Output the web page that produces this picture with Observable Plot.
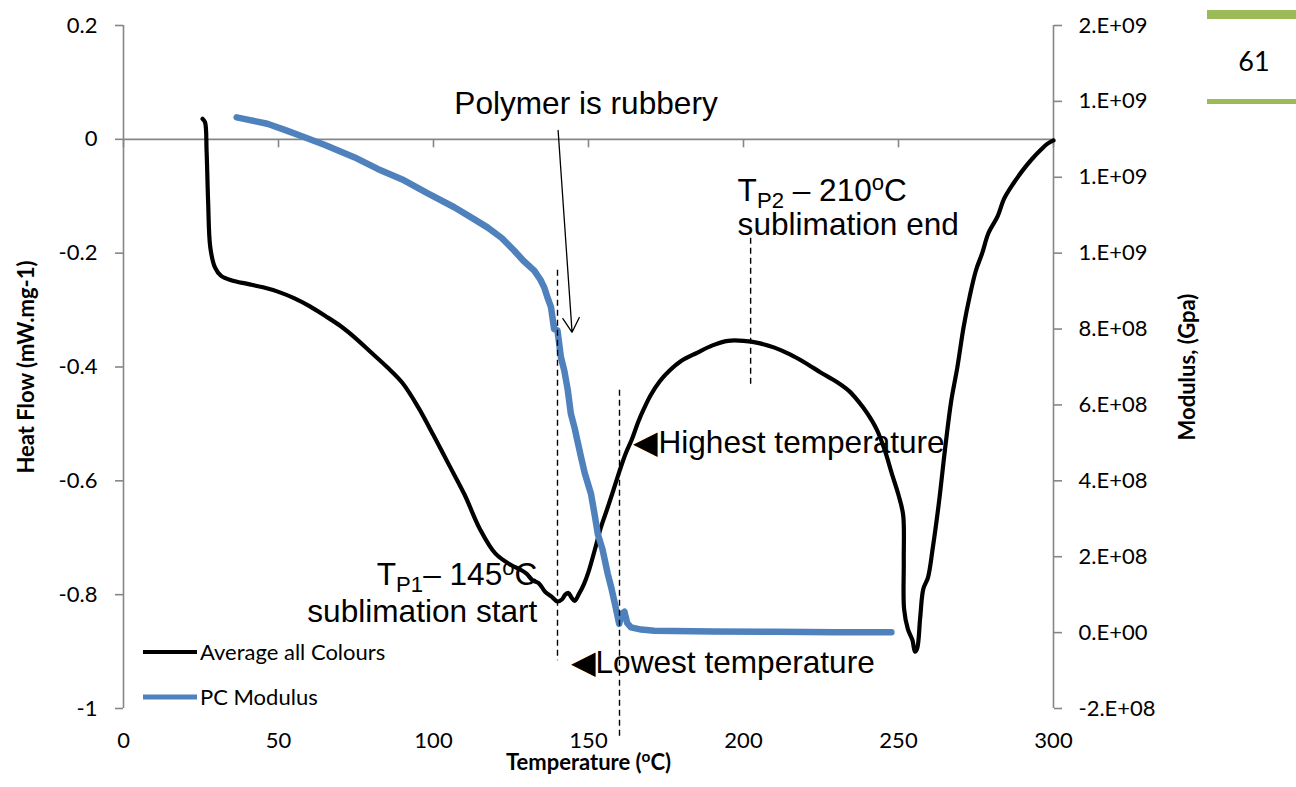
<!DOCTYPE html>
<html>
<head>
<meta charset="utf-8">
<script src="https://cdn.jsdelivr.net/npm/d3@7"></script>
<script src="https://cdn.jsdelivr.net/npm/@observablehq/plot@0.6"></script>
<style>
  body { margin: 0; background: #fff; }
  #wrap { position: relative; width: 1296px; height: 787px; overflow: hidden; }
  #wrap > svg { position: absolute; left: 0; top: 0; }
</style>
</head>
<body>
<div id="wrap"></div>
<script>
// DSC heat flow, averaged over all colours: [temperature °C, heat flow mW/mg]
const heatFlowCurve = [
  [25.5, 0.036], [26.3, 0.03], [26.8, -0.02], [27.3, -0.11], [28.0, -0.19], [29.5, -0.225],
  [31.5, -0.24], [35, -0.248], [40, -0.254], [45, -0.26], [50, -0.268], [55, -0.279],
  [60, -0.293], [65, -0.31], [70, -0.328], [75, -0.35], [80, -0.375], [85, -0.4],
  [90, -0.428], [95, -0.47], [100, -0.52], [105, -0.572], [110, -0.624], [115, -0.685],
  [120, -0.728], [125, -0.748], [128, -0.756], [130, -0.763], [132, -0.775], [134, -0.78],
  [136, -0.795], [138, -0.803], [140, -0.812], [141.5, -0.808], [142.5, -0.8], [143.5, -0.797],
  [144.5, -0.805], [145.5, -0.811], [147, -0.798], [148.5, -0.782], [150, -0.76], [152, -0.722],
  [154, -0.682], [156, -0.65], [158, -0.617], [160, -0.583], [162, -0.552], [164, -0.527],
  [166, -0.497], [168, -0.472], [170, -0.45], [173, -0.425], [176, -0.407], [180, -0.389],
  [185, -0.375], [190, -0.362], [195, -0.354], [200, -0.354], [205, -0.358], [210, -0.366],
  [215, -0.378], [220, -0.393], [225, -0.41], [230, -0.426], [234, -0.442], [237, -0.46],
  [240, -0.482], [243, -0.51], [245.5, -0.545], [248, -0.59], [250, -0.625], [251.5, -0.66],
  [251.7, -0.74], [251.8, -0.825], [253, -0.86], [254.5, -0.88], [255.3, -0.9], [256, -0.895],
  [257, -0.84], [258, -0.79], [259.5, -0.77], [261, -0.72], [263, -0.64], [265, -0.545],
  [267, -0.46], [269, -0.4], [271, -0.33], [273, -0.275], [275, -0.23], [277, -0.2],
  [279, -0.165], [282, -0.135], [284, -0.105], [287, -0.078], [290, -0.055], [293, -0.035],
  [296, -0.018], [298, -0.008], [300, -0.002]
];

// PC storage modulus: [temperature °C, modulus]
const modulusCurve = [
  [36.5, 1.358e9], [40, 1.352e9], [46.4, 1.341e9], [52, 1.325e9], [58.2, 1.306e9], [65, 1.285e9],
  [74.4, 1.253e9], [82, 1.222e9], [90.5, 1.192e9], [98, 1.158e9], [106.7, 1.121e9], [112, 1.095e9],
  [117.4, 1.068e9], [122, 1.04e9], [126, 1.007e9], [129, 0.98e9], [132.5, 0.954e9], [134.5, 0.93e9],
  [135.7, 0.91e9], [136.7, 0.885e9], [137.9, 0.858e9], [138.9, 0.80e9], [140, 0.796e9], [141.1, 0.726e9],
  [142.2, 0.69e9], [143.3, 0.64e9], [144.3, 0.577e9], [145.5, 0.54e9], [147.6, 0.462e9], [148.8, 0.42e9],
  [150.8, 0.366e9], [152, 0.31e9], [153, 0.26e9], [154.5, 0.22e9], [156.2, 0.155e9], [157.3, 0.12e9],
  [158.3, 0.084e9], [159.9, 0.023e9], [160.8, 0.05e9], [161.6, 0.055e9], [162.5, 0.025e9], [163.7, 0.014e9],
  [167, 0.008e9], [171.2, 0.005e9], [190, 0.003e9], [210, 0.002e9], [230, 0.001e9], [247.7, 0.001e9]
];

const seriesNames = ["Average all Colours", "PC Modulus"];
const seriesColors = ["#000000", "#4F81BD"];

const xTicks = [0, 50, 100, 150, 200, 250, 300];
const yTicks = [-1, -0.8, -0.6, -0.4, -0.2, 0, 0.2];
const modTicks = [-2e8, 0, 2e8, 4e8, 6e8, 8e8, 1e9, 1.2e9, 1.4e9, 1.6e9];
const modTickLabels = ["-2.E+08", "0.E+00", "2.E+08", "4.E+08", "6.E+08", "8.E+08", "1.E+09", "1.E+09", "1.E+09", "2.E+09"];

// Secondary (modulus) axis expressed on the heat-flow scale
const modDomain = [-2e8, 1.6e9];
const yDomain = [-1, 0.2];
const toLeft = m => yDomain[0] + (m - modDomain[0]) / (modDomain[1] - modDomain[0]) * (yDomain[1] - yDomain[0]);

// Annotation guides and labels (temperature, heat flow)
const guideLines = [
  {x: 140, y1: -0.23, y2: -0.916},
  {x: 160, y1: -0.441, y2: -1.05},
  {x: 202.3, y1: -0.174, y2: -0.432}
];
const pointer = [{x1: 140.2, y1: 0.0155, x2: 144.7, y2: -0.339}];
const notesMiddle = [
  {x: 149.2, y: 0.063, text: "Polymer is rubbery"}
];
const notesEnd = [
  {x: 133.5, y: -0.766, text: "T_{P1}– 145^{o}C"},
  {x: 133.5, y: -0.831, text: "sublimation start"}
];
const notesStart = [
  {x: 198.1, y: -0.090, text: "T_{P2} – 210^{o}C"},
  {x: 198.1, y: -0.151, text: "sublimation end"},
  {x: 164.5, y: -0.533, text: "◀Highest temperature"},
  {x: 144.2, y: -0.919, text: "◀Lowest temperature"}
];

const axisGrey = "#868686";
const tickFont = "Lato";
const noteFont = "Liberation Sans, Arial, sans-serif";

const tickDown = {draw(context) { context.moveTo(0, 0); context.lineTo(0, 8); }};

const noteStyle = anchor => ({x: "x", y: "y", text: "text", textAnchor: anchor, lineAnchor: "middle",
  fontSize: 31.6, fontFamily: noteFont, fill: "black"});

const chart = Plot.plot({
  width: 1296,
  height: 787,
  marginLeft: 123,
  marginRight: 243,
  marginTop: 25,
  marginBottom: 79,
  style: {fontFamily: tickFont, fontSize: "22px", color: "black", background: "transparent", overflow: "visible"},
  x: {domain: [0, 300]},
  y: {domain: yDomain},
  marks: [
    // axis lines
    Plot.ruleX([0], {stroke: axisGrey, strokeWidth: 1.6}),
    Plot.ruleX([300], {stroke: axisGrey, strokeWidth: 1.6}),
    Plot.ruleY([0], {stroke: axisGrey, strokeWidth: 1.6}),
    Plot.dot(xTicks, {x: d => d, y: () => 0, symbol: tickDown, stroke: axisGrey, strokeWidth: 1.6, fill: "none"}),
    Plot.axisX(xTicks, {anchor: "bottom", tickSize: 0, tickPadding: 24, tickFormat: d => String(d), fontSize: 22, fontFamily: tickFont, label: null}),
    Plot.axisY(yTicks, {anchor: "left", tickSize: 8, tickPadding: 18, stroke: axisGrey, strokeWidth: 1.6, fill: "black",
      tickFormat: d => String(+d.toFixed(1)), fontSize: 22, fontFamily: tickFont, label: null}),
    Plot.axisY(modTicks.map(toLeft), {anchor: "right", tickSize: 8, tickPadding: 17, stroke: axisGrey, strokeWidth: 1.6, fill: "black",
      tickFormat: d => modTickLabels[modTicks.findIndex(m => Math.abs(toLeft(m) - d) < 1e-9)], fontSize: 22, fontFamily: tickFont, label: null}),

    // axis titles
    Plot.text(["Heat Flow (mW.mg-1)"], {frameAnchor: "left", dx: -97, rotate: -90, text: d => d, textAnchor: "middle", lineAnchor: "middle",
      fontWeight: "bold", fontSize: 22, fontFamily: tickFont}),
    Plot.text(["Modulus, (Gpa)"], {frameAnchor: "right", dx: 134, rotate: -90, text: d => d, textAnchor: "middle", lineAnchor: "middle",
      fontWeight: "bold", fontSize: 22, fontFamily: tickFont}),
    Plot.text(["Temperature (^{o}C)"], {frameAnchor: "bottom", dy: 54, text: d => d, textAnchor: "middle", lineAnchor: "middle",
      fontWeight: "bold", fontSize: 22, fontFamily: tickFont}),

    // series
    Plot.line(heatFlowCurve, {x: d => d[0], y: d => d[1], stroke: seriesColors[0], strokeWidth: 4.2, curve: "catmull-rom"}),
    Plot.line(modulusCurve, {x: d => d[0], y: d => toLeft(d[1]), stroke: seriesColors[1], strokeWidth: 6.5, strokeLinecap: "round", strokeLinejoin: "round"}),

    // annotations
    Plot.ruleX(guideLines, {x: "x", y1: "y1", y2: "y2", stroke: "black", strokeWidth: 1.4, strokeDasharray: "6,4"}),
    Plot.arrow(pointer, {x1: "x1", y1: "y1", x2: "x2", y2: "y2", stroke: "black", strokeWidth: 1.3, headLength: 19, headAngle: 60}),
    Plot.text(notesMiddle, noteStyle("middle")),
    Plot.text(notesEnd, noteStyle("end")),
    Plot.text(notesStart, noteStyle("start"))
  ]
});

const wrap = document.getElementById("wrap");
wrap.appendChild(chart);

// Turn _{..} and ^{..} markup into subscript / superscript tspans
d3.select(chart).selectAll("text").each(function () {
  const s = this.textContent;
  if (!/[_^]\{/.test(s)) return;
  const fs = parseFloat(getComputedStyle(this).fontSize) || 22;
  const parts = s.split(/(\^\{[^}]*\}|_\{[^}]*\})/).filter(p => p !== "");
  this.textContent = "";
  let shift = 0;
  for (const p of parts) {
    let txt = p, target = 0, small = false;
    if (p.startsWith("^{")) { txt = p.slice(2, -1); target = -0.33 * fs; small = true; }
    else if (p.startsWith("_{")) { txt = p.slice(2, -1); target = 0.22 * fs; small = true; }
    const t = d3.select(this).append("tspan").text(txt).attr("dy", target - shift);
    if (small) t.attr("font-size", 0.7 * fs);
    shift = target;
  }
});

// Legend inside the plot area, page number in the corner
const overlay = d3.select(wrap).append("svg")
  .attr("width", 1296).attr("height", 787)
  .style("pointer-events", "none");

const legendRows = [{y: 652}, {y: 697}];
seriesNames.forEach((name, i) => {
  const g = overlay.append("g").attr("transform", `translate(143,${legendRows[i].y})`);
  g.append("line").attr("x1", 0).attr("x2", 54).attr("y1", 0).attr("y2", 0)
    .attr("stroke", seriesColors[i]).attr("stroke-width", i === 0 ? 4 : 5);
  g.append("text").attr("x", 57).attr("y", 8)
    .attr("font-family", tickFont).attr("font-size", 22).attr("fill", "black").text(name);
});

overlay.append("rect").attr("x", 1207).attr("y", 10).attr("width", 89).attr("height", 9).attr("fill", "#9BBB59");
overlay.append("rect").attr("x", 1207).attr("y", 99).attr("width", 89).attr("height", 5).attr("fill", "#9BBB59");
overlay.append("text").attr("x", 1254).attr("y", 71).attr("text-anchor", "middle")
  .attr("font-family", tickFont).attr("font-size", 27).attr("fill", "black").text("61");
</script>
</body>
</html>
